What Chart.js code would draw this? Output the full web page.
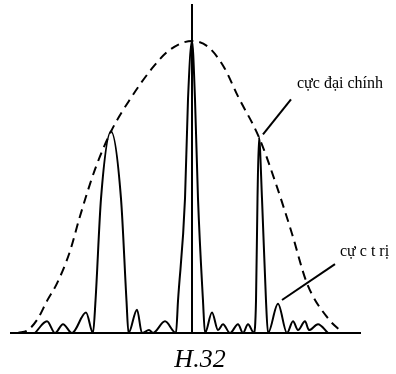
<!DOCTYPE html>
<html>
<head>
<meta charset="utf-8">
<script src="https://cdn.jsdelivr.net/npm/chart.js@4"></script>
<style>
  body { margin: 0; background: #fff; }
  #wrap { width: 396px; height: 374px; }
</style>
</head>
<body>
<div id="wrap"><canvas id="chart" width="396" height="374"></canvas></div>
<script>
// position on the screen (arbitrary units, 0 = centre) and relative intensity
const envelopeX = [-17.4, -16.4, -15.4, -14.5, -13.5, -12.2, -11.2, -9.7, -8.1, -6.2, -3.9, -2.2, 0, 1.6, 3.2, 4.6, 6.7, 8.4, 10.0, 11.5, 13.6, 15.1];
const envelopeY = [0, 0.01, 0.05, 0.11, 0.17, 0.28, 0.40, 0.56, 0.69, 0.80, 0.91, 0.97, 1.0, 0.98, 0.91, 0.81, 0.67, 0.51, 0.34, 0.17, 0.05, 0];

const patternX = [-15.7, -14.5, -13.7, -12.9, -12.0, -10.6, -9.9, -9.65, -9.1, -8.1, -7.1, -6.55, -6.35,
  -5.5, -5.0, -4.3, -3.9, -2.7, -1.6, -1.4, -0.7, -0.4, 0, 0.3, 0.6, 1.1, 1.3,
  2.0, 2.6, 3.1, 3.8, 4.6, 5.1, 5.6, 6.2, 6.4, 6.55, 6.7, 7.0, 7.4, 7.6,
  8.6, 9.5, 10.1, 10.6, 11.3, 11.7, 12.6, 13.6];
const patternY = [0, 0.04, 0, 0.03, 0, 0.07, 0, 0.11, 0.46, 0.69, 0.46, 0.11, 0,
  0.08, 0, 0.01, 0, 0.04, 0, 0.11, 0.46, 0.80, 1.0, 0.80, 0.46, 0.11, 0,
  0.07, 0.01, 0.03, 0, 0.03, 0, 0.03, 0, 0.11, 0.46, 0.67, 0.46, 0.11, 0,
  0.10, 0, 0.04, 0.01, 0.04, 0.01, 0.03, 0];

const calloutTexts = ['cực đại chính', 'cự c t rị'];
const figureLabel = 'H.32';

const toPoints = (xs, ys) => xs.map((x, i) => ({ x, y: ys[i] }));

const callouts = {
  id: 'callouts',
  afterDatasetsDraw(chart, args, opts) {
    const { ctx } = chart;
    const sx = chart.scales.x, sy = chart.scales.y;
    ctx.save();
    ctx.strokeStyle = '#000';
    ctx.fillStyle = '#000';
    ctx.lineWidth = 2;
    ctx.font = opts.font;
    ctx.textBaseline = 'alphabetic';
    opts.items.forEach((c, i) => {
      ctx.beginPath();
      ctx.moveTo(sx.getPixelForValue(c.from[0]), sy.getPixelForValue(c.from[1]));
      ctx.lineTo(sx.getPixelForValue(c.to[0]), sy.getPixelForValue(c.to[1]));
      ctx.stroke();
      ctx.fillText(calloutTexts[i], sx.getPixelForValue(c.at[0]), sy.getPixelForValue(c.at[1]));
    });
    ctx.font = opts.captionFont;
    ctx.textAlign = 'center';
    ctx.fillText(figureLabel, chart.width / 2 + 2, chart.height - 7);
    ctx.restore();
  }
};

new Chart(document.getElementById('chart'), {
  type: 'line',
  data: {
    datasets: [
      {
        data: toPoints(patternX, patternY),
        borderColor: '#000',
        borderWidth: 2,
        pointRadius: 0,
        cubicInterpolationMode: 'monotone'
      },
      {
        data: toPoints(envelopeX, envelopeY),
        borderColor: '#000',
        borderWidth: 2,
        borderDash: [9, 6],
        pointRadius: 0,
        cubicInterpolationMode: 'monotone'
      }
    ]
  },
  options: {
    responsive: false,
    animation: false,
    layout: { padding: { left: 11, right: 36, top: 5, bottom: 41 } },
    scales: {
      x: {
        type: 'linear',
        min: -18.1,
        max: 16.8,
        grid: { display: false, drawTicks: false },
        ticks: { display: false },
        border: { display: true, color: '#000', width: 2 }
      },
      y: {
        min: 0,
        max: 1.123,
        position: { x: 0 },
        grid: { display: false, drawTicks: false },
        ticks: { display: false },
        border: { display: true, color: '#000', width: 2 }
      }
    },
    plugins: {
      legend: { display: false },
      tooltip: { enabled: false },
      callouts: {
        font: '16px "Liberation Serif"',
        captionFont: 'italic 26px "Liberation Serif"',
        items: [
          { from: [7.1, 0.68], to: [9.9, 0.80], at: [10.5, 0.839] },
          { from: [9.0, 0.113], to: [14.3, 0.236], at: [14.8, 0.264] }
        ]
      }
    }
  },
  plugins: [callouts]
});
</script>
</body>
</html>
